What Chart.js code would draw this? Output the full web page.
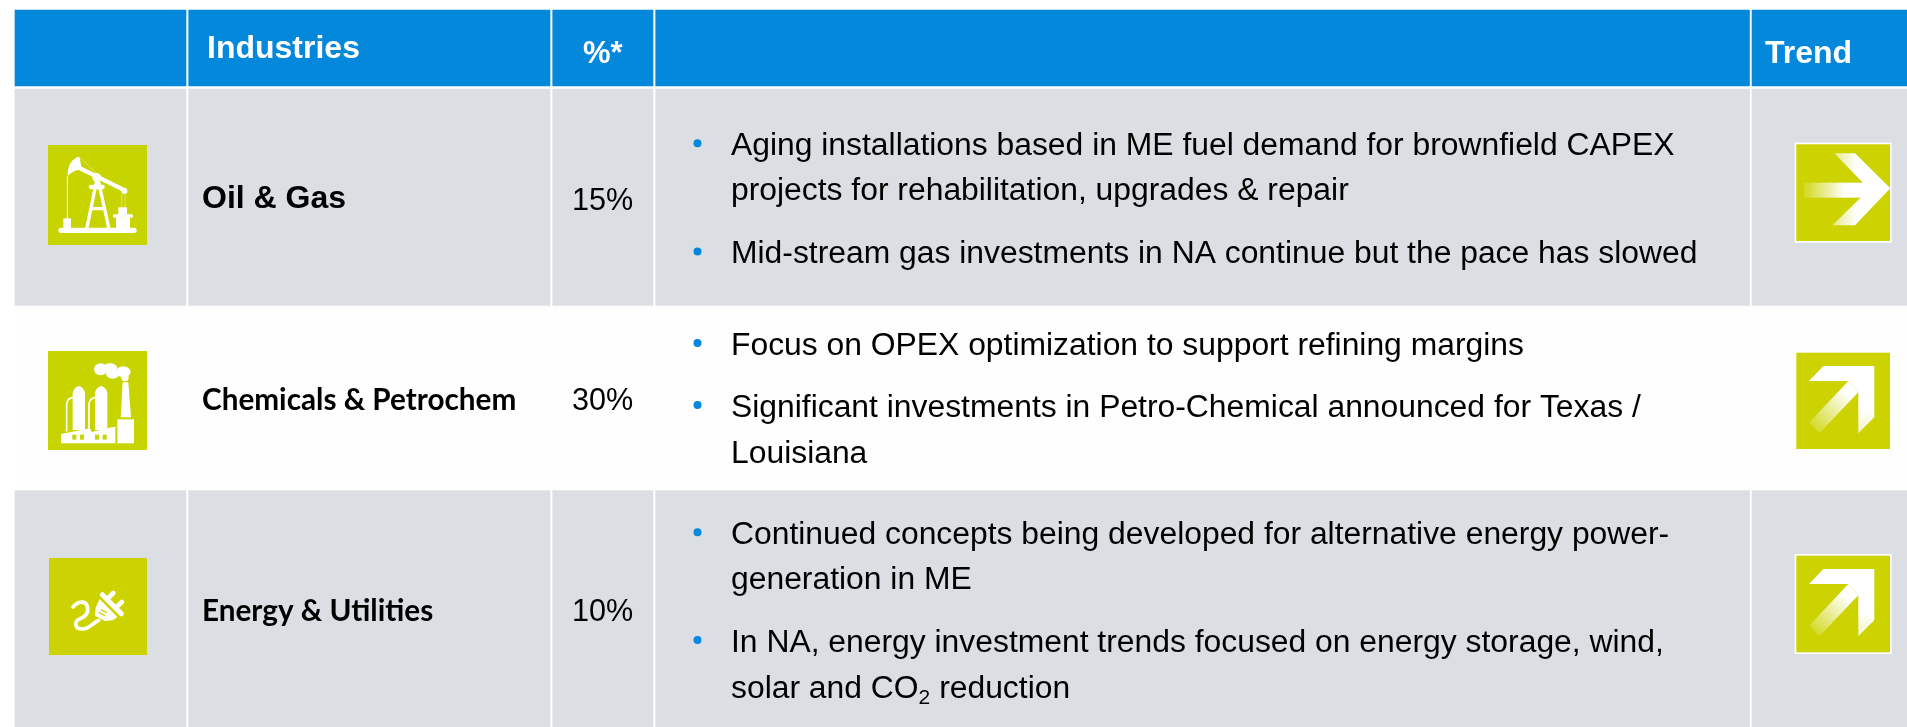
<!DOCTYPE html>
<html><head><meta charset="utf-8">
<style>html,body{margin:0;padding:0;background:#fff;overflow:hidden}canvas{display:block}</style>
<script src="https://cdn.jsdelivr.net/npm/chart.js@4"></script>
</head><body><canvas id="c" width="1907" height="727"></canvas>
<script>
// ---- data ----
const industries = ["Oil & Gas", "Chemicals & Petrochem", "Energy & Utilities"];
const shares = [15, 30, 10];
const headers = ["Industries", "%*", "Trend"];
const notesOil = [["Aging installations based in ME fuel demand for brownfield CAPEX", "projects for rehabilitation, upgrades & repair"], ["Mid-stream gas investments in NA continue but the pace has slowed"]];
const notesChem = [["Focus on OPEX optimization to support refining margins"], ["Significant investments in Petro-Chemical announced for Texas /", "Louisiana"]];
const notesEnergy = [["Continued concepts being developed for alternative energy power-", "generation in ME"], ["In NA, energy investment trends focused on energy storage, wind,", "solar and CO|2| reduction"]];
const trends = ["flat", "up", "up"];

// ---- table layout (scale units = page pixels) ----
const colEdges = [[15,186],[188.7,550],[552.7,653],[655.7,1749.5],[1752,1907]];
const rowEdges = [[10,86],[89,305.5],[305.5,490],[490,727]];
const rowFill = ["#0388DB","#DBDEE3","#FEFEFE","#DBDEE3"];
const lineBase = [[155,200.4,262.7],[355,416.7,463.3],[544,589.3,651.7,697.7]];
const bulletY = [[143.3,251.4],[343,405],[532.3,640]];
const nameBase = [208,410,621];
const shareBase = [210,409.5,620.5];
const iconBox = [[48,145,147,245],[48,351,147,450],[49,558,147,655]];
const trendBox = [[1796.3,144.3,1890,241],[1796.3,352.7,1890,449],[1796.3,555.7,1890,652.3]];
const trendFrame = [true,false,true];
const LIME = ["#C8D400","#C8D400","#CCD300"];

const cellSets = [];
rowEdges.forEach((r,ri)=>colEdges.forEach(c=>{
  cellSets.push({type:'bar',grouped:false,barThickness:c[1]-c[0],backgroundColor:rowFill[ri],borderWidth:0,
    data:[{x:(c[0]+c[1])/2,y:[r[0],r[1]]}]});
}));

function poly(ctx,p){ctx.beginPath();p.forEach((q,i)=>i?ctx.lineTo(q[0],q[1]):ctx.moveTo(q[0],q[1]));ctx.closePath();ctx.fill();}
function circ(ctx,x,y,r){ctx.beginPath();ctx.arc(x,y,r,0,7);ctx.fill();}
function ell(ctx,x,y,a,b){ctx.beginPath();ctx.ellipse(x,y,a,b,0,0,7);ctx.fill();}

function drawPump(ctx){ // crop-space, origin (30,130) at 1/3
  ctx.fillStyle='#fff';ctx.strokeStyle='#fff';ctx.lineJoin='round';ctx.lineCap='round';
  ctx.lineWidth=16;ctx.beginPath();ctx.moveTo(93,301);ctx.lineTo(312,301);ctx.stroke();
  ctx.fillRect(100,265,23,32);
  ctx.fillRect(258,262,42,34);ctx.fillRect(265,232,26,24);
  ctx.lineWidth=11;ctx.beginPath();ctx.moveTo(254,258);ctx.lineTo(304,258);ctx.stroke();
  ctx.lineWidth=10;ctx.beginPath();ctx.moveTo(200,152);ctx.lineTo(171,292);ctx.moveTo(205,152);ctx.lineTo(236,292);ctx.moveTo(186,236);ctx.lineTo(222,236);ctx.stroke();
  ctx.lineWidth=12;ctx.beginPath();ctx.moveTo(140,110);ctx.lineTo(285,181);ctx.stroke();
  ctx.lineWidth=13;ctx.beginPath();ctx.moveTo(183,171);ctx.lineTo(218,171);ctx.stroke();
  circ(ctx,200,142,13);circ(ctx,283,183,9);
  ctx.beginPath();ctx.moveTo(148,80);ctx.bezierCurveTo(125,85,113,105,113,137);ctx.bezierCurveTo(128,125,140,118,156,118);ctx.closePath();ctx.fill();
  ctx.lineWidth=3;ctx.beginPath();ctx.moveTo(112,140);ctx.lineTo(112,265);ctx.stroke();
  ctx.strokeStyle='rgba(255,255,255,.6)';ctx.lineWidth=2;
  ctx.beginPath();ctx.moveTo(150,82);ctx.lineTo(197,128);ctx.moveTo(275,195);ctx.lineTo(275,232);ctx.moveTo(285,195);ctx.lineTo(285,232);ctx.stroke();
}
function drawFactory(ctx,lime){ // origin (30,340)
  ctx.fillStyle='#fff';ctx.strokeStyle='#fff';ctx.lineCap='round';
  ell(ctx,212,88,20,18);ell(ctx,240,84,22,14);ell(ctx,248,102,20,14);ell(ctx,280,95,22,16);ell(ctx,285,112,11,12);
  poly(ctx,[[278,127],[295,127],[303,232],[272,232]]);
  [[128,165],[195,232]].forEach(t=>{
    ctx.beginPath();ctx.moveTo(t[0],270);ctx.lineTo(t[0],160);ctx.quadraticCurveTo(t[0]+2,143,(t[0]+t[1])/2,138);ctx.quadraticCurveTo(t[1]-2,143,t[1],160);ctx.lineTo(t[1],270);ctx.closePath();ctx.fill();
    ctx.lineWidth=5;ctx.beginPath();ctx.moveTo(t[0]-18,272);ctx.lineTo(t[0]-18,192);ctx.quadraticCurveTo(t[0]-17,176,t[0]+1,172);ctx.stroke();
  });
  poly(ctx,[[93,282],[180,265],[185,276],[245,262],[262,260],[262,310],[93,310]]);
  ctx.fillRect(262,238,50,72);
  ctx.fillStyle=lime;
  [127,150,195,218].forEach(x=>ctx.fillRect(x,284,12,15));
  ctx.fillRect(256,262,6,48);
}
function drawPlug(ctx,lime){ // origin (30,545)
  ctx.fillStyle='#fff';ctx.strokeStyle='#fff';ctx.lineCap='round';ctx.lineJoin='round';
  ctx.lineWidth=14;
  ctx.beginPath();ctx.moveTo(236,158);ctx.lineTo(250,144);ctx.moveTo(262,184);ctx.lineTo(276,171);ctx.stroke();
  ctx.lineWidth=15;ctx.beginPath();ctx.moveTo(217,149);ctx.lineTo(274,206);ctx.stroke();
  poly(ctx,[[209,162],[262,216],[248,226],[225,228],[195,212],[197,188]]);
  ctx.fillStyle=lime;
  poly(ctx,[[213,192],[232,201],[230,205],[211,196]]);
  poly(ctx,[[207,200],[226,210],[224,214],[205,204]]);
  ctx.lineWidth=11;
  ctx.beginPath();ctx.moveTo(206,226);ctx.bezierCurveTo(185,236,178,252,158,252);ctx.bezierCurveTo(132,252,132,228,150,221);ctx.bezierCurveTo(172,212,176,200,172,184);ctx.bezierCurveTo(166,166,145,168,129,186);ctx.stroke();
}
function drawFlat(ctx){ // origin (1700,0)
  const g=ctx.createLinearGradient(312,0,435,0);g.addColorStop(0,'rgba(255,255,255,.12)');g.addColorStop(1,'#fff');
  ctx.fillStyle=g;ctx.fillRect(312,548,180,45);
  const h=ctx.createLinearGradient(400,0,470,0);h.addColorStop(0,'rgba(255,255,255,.55)');h.addColorStop(1,'#fff');
  ctx.fillStyle=h;
  poly(ctx,[[403,460],[465,460],[571,565],[465,676],[397,676],[485,590],[487,547]]);
}
function drawUp(ctx,dy){ // origin (1700,270), dy in crop units
  const g=ctx.createLinearGradient(335,478+dy,440,370+dy);g.addColorStop(0,'rgba(255,255,255,.12)');g.addColorStop(1,'#fff');
  ctx.fillStyle=g;
  poly(ctx,[[445,333+dy],[475,367+dy],[358,490+dy],[327,458+dy]]);
  const h=ctx.createLinearGradient(0,420+dy,0,492+dy);h.addColorStop(0,'#fff');h.addColorStop(1,'rgba(255,255,255,.75)');
  ctx.fillStyle=h;
  poly(ctx,[[370,288+dy],[523,288+dy],[523,442+dy],[475,490+dy],[475,367+dy],[445,333+dy],[327,333+dy]]);
}

const tablePlugin = {
  id:'tableContent',
  afterDatasetsDraw(chart){
    const {ctx,scales:{x,y}}=chart;
    const px=v=>x.getPixelForValue(v), py=v=>y.getPixelForValue(v);
    ctx.save();
    ctx.textBaseline='alphabetic';ctx.textAlign='left';
    // headers
    ctx.fillStyle='#fff';
    ctx.font='bold 32px "Liberation Sans"';
    ctx.fillText(headers[0],px(207),py(58));
    ctx.font='bold 31px "Liberation Sans"';
    ctx.fillText(headers[1],px(583),py(62.7));
    ctx.font='bold 32px "Liberation Sans"';
    ctx.fillText(headers[2],px(1765),py(62.7));
    // industry names and shares
    industries.forEach((name,i)=>{
      ctx.fillStyle='#000';
      ctx.font=i===0?'bold 32px "Liberation Sans"':'bold 29.7px Lato';
      ctx.fillText(name,px(202),py(nameBase[i]));
      ctx.font='30.6px "Liberation Sans"';
      ctx.fillText(shares[i]+'%',px(572),py(shareBase[i]));
    });
    // notes
    [notesOil,notesChem,notesEnergy].forEach((notes,ri)=>{
      let ln=0;
      notes.forEach((para,pi)=>{
        ctx.fillStyle='#0388DB';
        ctx.beginPath();ctx.arc(px(697.5),py(bulletY[ri][pi]),4,0,7);ctx.fill();
        para.forEach(line=>{
          ctx.fillStyle='#000';
          const parts=line.split('|');
          let cx=px(731);
          parts.forEach((t,k)=>{
            const sub=k%2===1;
            ctx.font=sub?'21px "Liberation Sans"':'31.85px "Liberation Sans"';
            ctx.fillText(t,cx,py(lineBase[ri][ln])+(sub?6:0));
            cx+=ctx.measureText(t).width;
          });
          ln++;
        });
      });
    });
    // industry icons
    iconBox.forEach((b,i)=>{
      ctx.fillStyle=LIME[i];
      ctx.fillRect(px(b[0]),py(b[1]),px(b[2])-px(b[0]),py(b[3])-py(b[1]));
    });
    const inCrop=(ox,oy,fn)=>{ctx.save();ctx.translate(px(ox),py(oy));ctx.scale(1/3,1/3);fn();ctx.restore();};
    inCrop(30,130,()=>drawPump(ctx));
    inCrop(30,340,()=>drawFactory(ctx,LIME[1]));
    inCrop(30,545,()=>drawPlug(ctx,LIME[2]));
    // trend icons
    trendBox.forEach((b,i)=>{
      if(trendFrame[i]){ctx.fillStyle='#fff';ctx.fillRect(px(b[0])-1.7,py(b[1])-1.7,px(b[2])-px(b[0])+3.4,py(b[3])-py(b[1])+3.4);}
      ctx.fillStyle='#CCD300';
      ctx.fillRect(px(b[0]),py(b[1]),px(b[2])-px(b[0]),py(b[3])-py(b[1]));
      if(trends[i]==='flat') inCrop(1700,0,()=>drawFlat(ctx));
      else inCrop(1700,270,()=>drawUp(ctx,i===1?0:609));
    });
    ctx.restore();
  }
};

new Chart(document.getElementById('c'),{
  data:{datasets:cellSets},
  plugins:[tablePlugin],
  options:{
    responsive:false,animation:false,
    layout:{padding:0},
    plugins:{legend:{display:false},tooltip:{enabled:false},title:{display:false}},
    scales:{
      x:{type:'linear',min:0,max:1907,offset:false,display:false},
      y:{type:'linear',min:0,max:727,reverse:true,display:false}
    }
  }
});
</script></body></html>
